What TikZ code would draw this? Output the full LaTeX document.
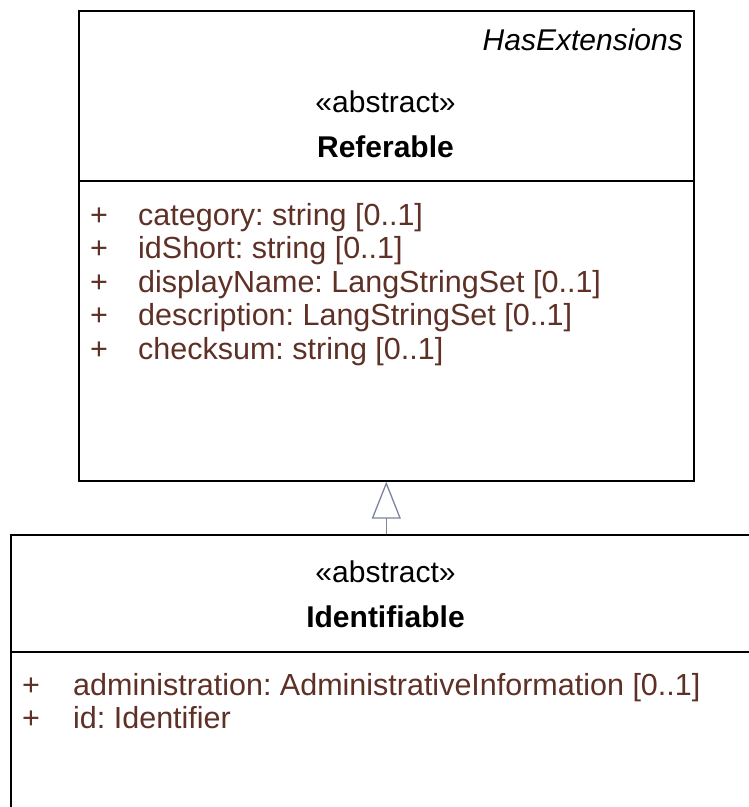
\documentclass[tikz,border=0pt]{standalone}
\usepackage{fontspec}
\setmainfont{Liberation Sans}
\usetikzlibrary{arrows.meta}
\frenchspacing
\definecolor{attrbrown}{RGB}{94,48,38}
\definecolor{genblue}{RGB}{122,132,156}
\tikzset{
  x=1pt,y=-1pt,
  >=Triangle,
}
\tikzstyle{classbox}=[draw=black,line width=1.6pt,fill=white,anchor=north west,inner sep=0pt]
\tikzstyle{every node}=[font=\fontsize{30}{36}\selectfont,inner sep=0pt]
\tikzstyle{attr}=[anchor=base west,text=attrbrown,font=\fontsize{30.5}{36}\selectfont]
\tikzstyle{generalization}=[draw=genblue,line width=1.3pt,-{Triangle[open,length=37pt,width=29pt]}]

\begin{document}
\begin{tikzpicture}
        \useasboundingbox (0,0) rectangle (749,807);
        \clip (0,0) rectangle (749,807);
        % Referable
        \node[classbox,minimum width=615pt,minimum height=470pt] (referable) at (78,10) {};
        \draw[line width=1.6pt] (78,181) -- (693,181);
        \node[anchor=base east,font=\fontsize{30}{36}\selectfont\itshape] (ext) at (683,50) {HasExtensions};
        \node[anchor=base] (stereoRef) at (385.5,112) {«abstract»};
        \node[anchor=base,font=\fontsize{30}{36}\selectfont\bfseries] (nameRef) at (385.5,157) {Referable};
        \foreach \txt [count=\i] in {category: string [0..1],idShort: string [0..1],displayName: LangStringSet [0..1],description: LangStringSet [0..1],checksum: string [0..1]}
          {
            \node[attr] (plusRef\i) at (90,225+33.5*\i-33.5) {+};
            \node[attr] (attrRef\i) at (138,225+33.5*\i-33.5) {\txt};
          }
        % Identifiable
        \node[classbox,minimum width=760pt,minimum height=300pt] (identifiable) at (10,534) {};
        \draw[line width=1.6pt] (10,652) -- (770,652);
        \node[anchor=base] (stereoId) at (385.5,582) {«abstract»};
        \node[anchor=base,font=\fontsize{30}{36}\selectfont\bfseries] (nameId) at (385.5,627) {Identifiable};
        \foreach \txt [count=\i] in {administration: AdministrativeInformation [0..1],id: Identifier}
          {
            \node[attr] (plusId\i) at (22,695+33.5*\i-33.5) {+};
            \node[attr] (attrId\i) at (73,695+33.5*\i-33.5) {\txt};
          }
        % generalization
        \draw[generalization] (referable.south |- identifiable.north) -- (referable.south);
      \end{tikzpicture}
\end{document}
